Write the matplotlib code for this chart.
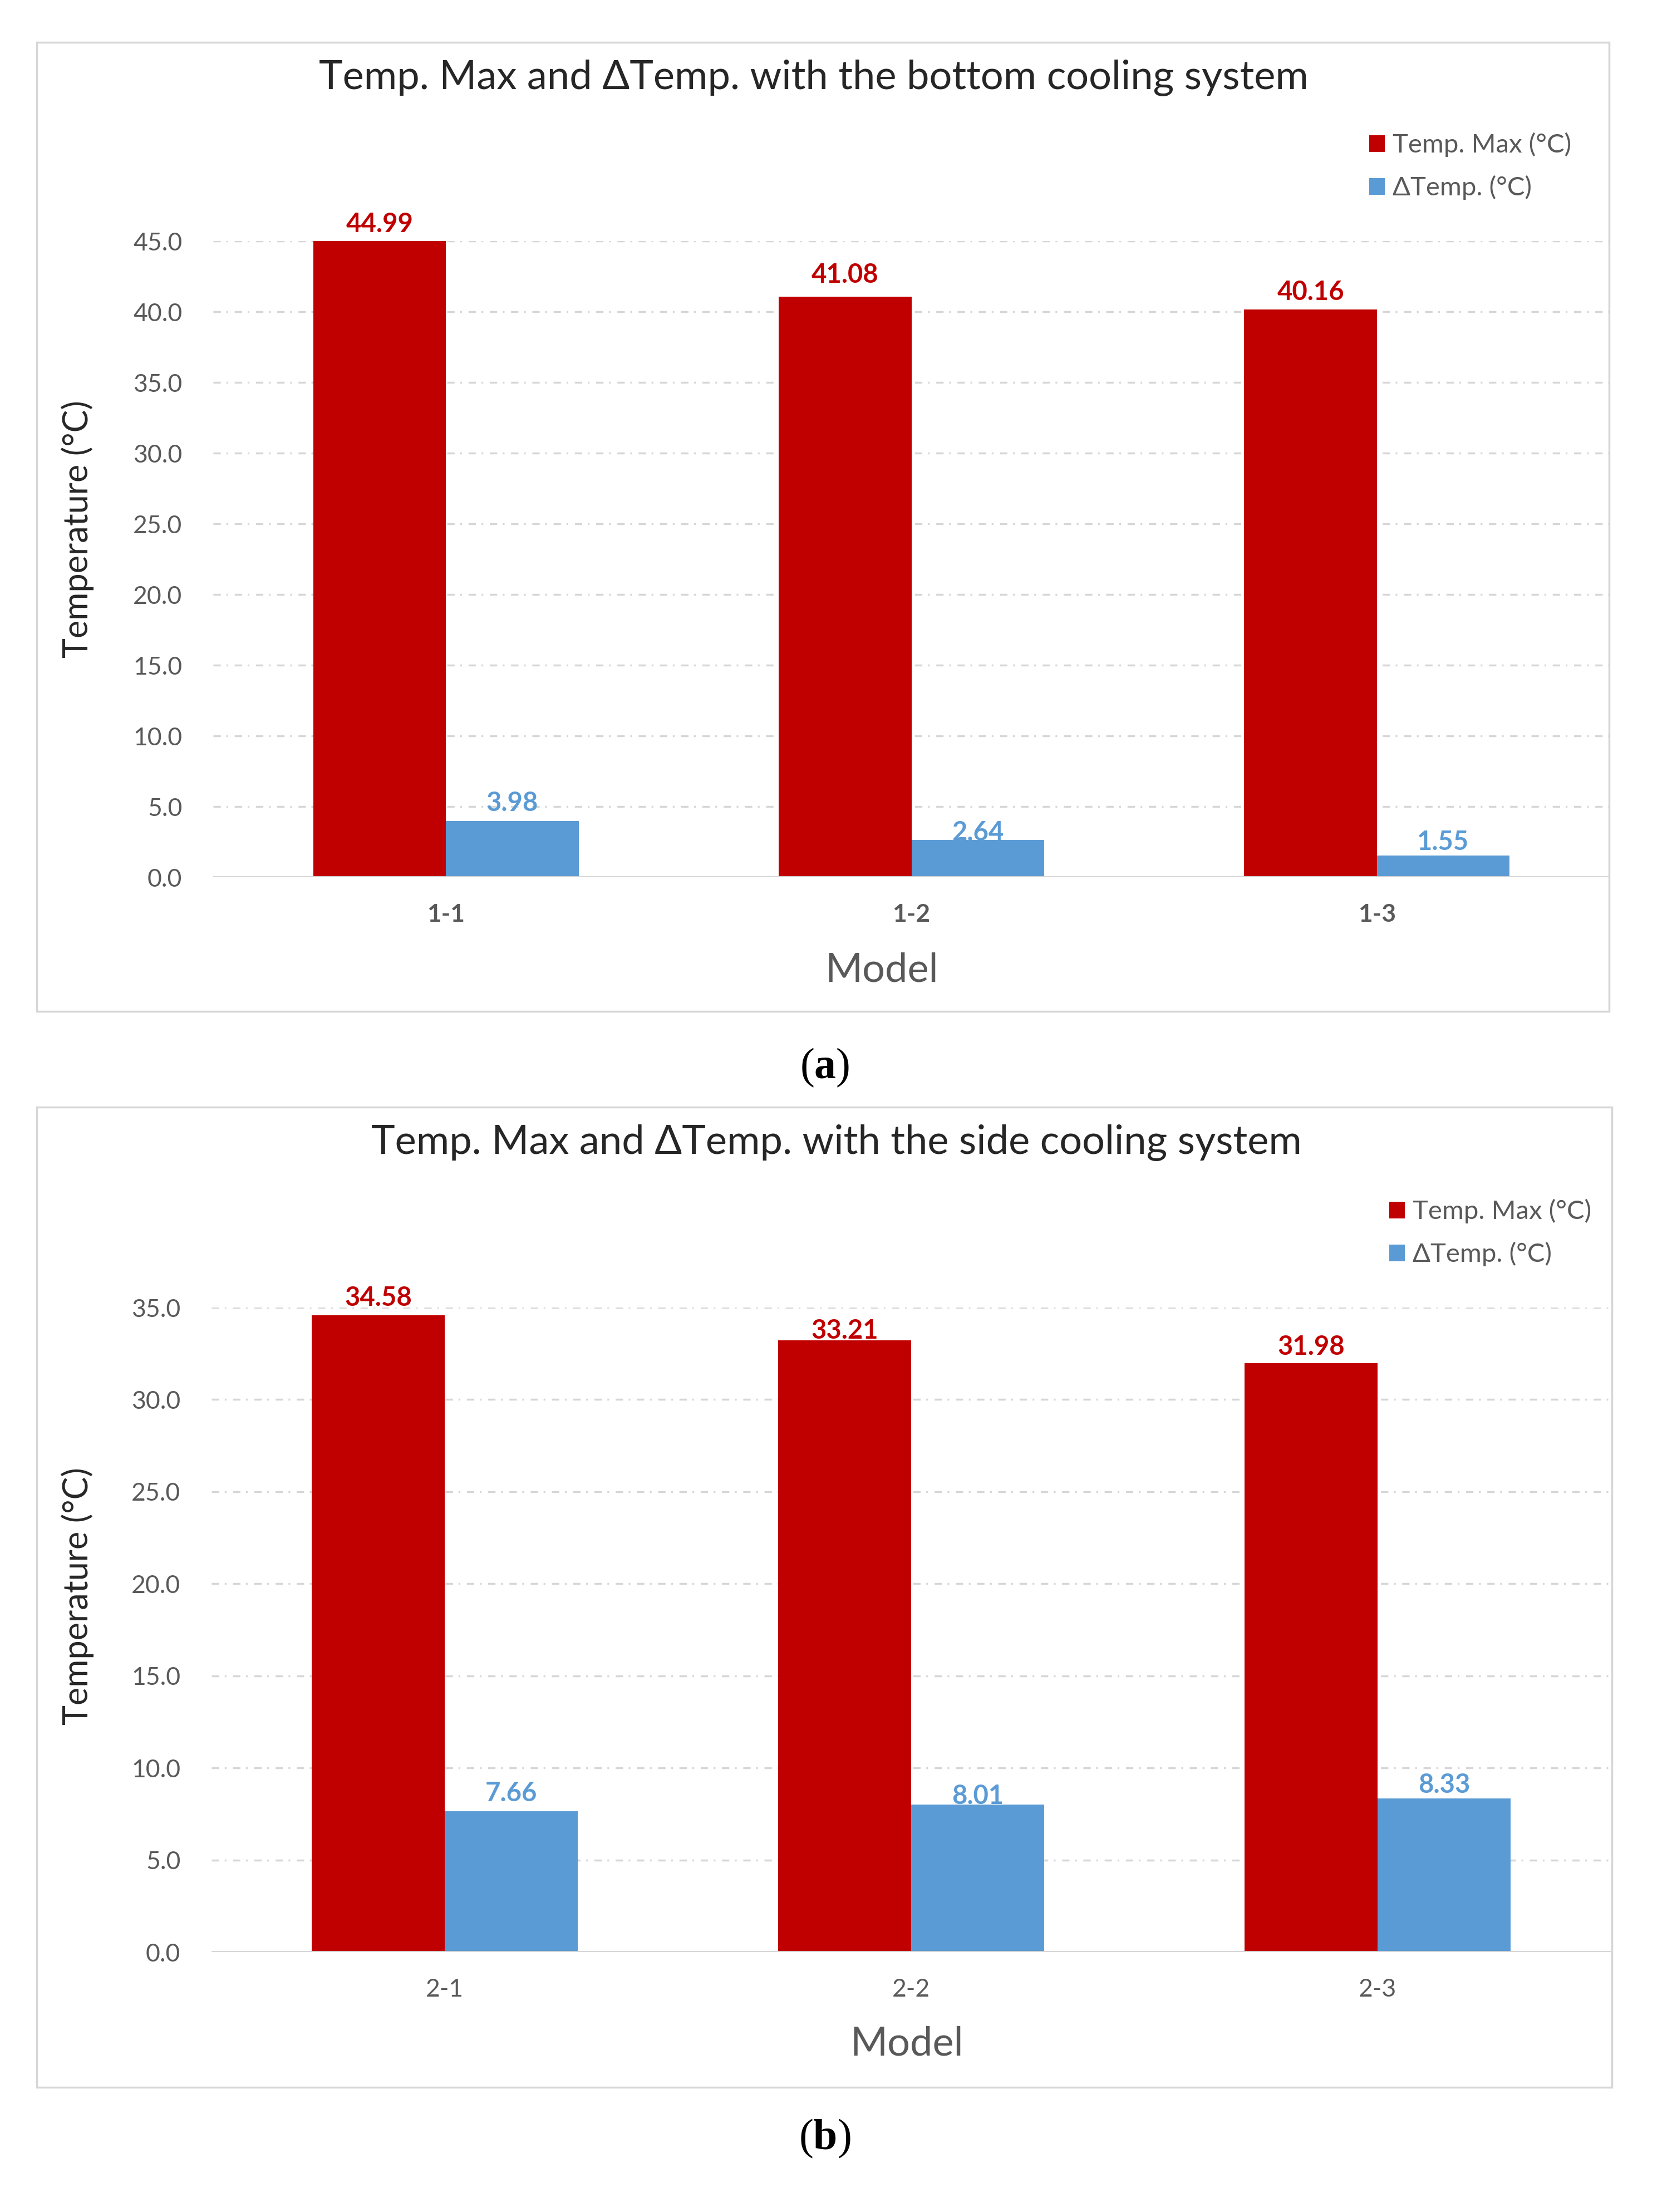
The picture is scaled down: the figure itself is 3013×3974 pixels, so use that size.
import matplotlib.pyplot as plt
import numpy as np
from matplotlib.patches import Rectangle

# data
models_a = ['1-1', '1-2', '1-3']
temp_max_a = [44.99, 41.08, 40.16]
delta_temp_a = [3.98, 2.64, 1.55]

models_b = ['2-1', '2-2', '2-3']
temp_max_b = [34.58, 33.21, 31.98]
delta_temp_b = [7.66, 8.01, 8.33]

RED = '#C00000'
BLUE = '#5B9BD5'
GRID = '#D6D6D6'
GREY = '#595959'
DARK = '#262626'

plt.rcParams['font.family'] = ['Lato', 'DejaVu Sans']
plt.rcParams['mathtext.fontset'] = 'custom'
plt.rcParams['mathtext.rm'] = 'Liberation Serif'
plt.rcParams['mathtext.bf'] = 'Liberation Serif:bold'

W, H = 3013, 3974
fig = plt.figure(figsize=(W / 100, H / 100), dpi=100)


def fx(px):
    return px / W


def fy(py):
    return 1 - py / H


def panel(box, axbox, models, tmax, dtemp, ymax, title, title_xy, ylabel_xy,
          model_xy, legend_xy, tick_bold, red_dy, blue_dy):
    # outer frame of the excel chart
    x0, y0, x1, y1 = box
    fig.add_artist(Rectangle((fx(x0), fy(y1)), fx(x1 - x0), (y1 - y0) / H,
                             transform=fig.transFigure, fill=False,
                             edgecolor=GRID, lw=2.5))
    l, t, r, b = axbox
    ax = fig.add_axes([fx(l), fy(b), fx(r - l), (b - t) / H])
    x = np.arange(len(models))
    w = 0.285
    b1 = ax.bar(x - w / 2, tmax, w, color=RED, zorder=3, label='Temp. Max (°C)')
    b2 = ax.bar(x + w / 2, dtemp, w, color=BLUE, zorder=3, label='ΔTemp. (°C)')
    for i in range(len(models)):
        ax.annotate(f'{tmax[i]:.2f}', (x[i] - w / 2, tmax[i]), xytext=(0, red_dy[i]),
                    textcoords='offset points', ha='center', va='baseline',
                    fontsize=34, fontweight='bold', color=RED, zorder=2)
        ax.annotate(f'{dtemp[i]:.2f}', (x[i] + w / 2, dtemp[i]), xytext=(0, blue_dy[i]),
                    textcoords='offset points', ha='center', va='baseline',
                    fontsize=34, fontweight='bold', color=BLUE, zorder=2)
    ax.set_xlim(-0.5, len(models) - 0.5)
    ax.set_ylim(0, ymax)
    ax.set_yticks(np.arange(0, ymax + 1, 5))
    ax.set_yticklabels([f'{v:.1f}' for v in np.arange(0, ymax + 1, 5)])
    ax.set_xticks(x)
    ax.set_xticklabels(models, fontweight='bold' if tick_bold else 'normal')
    ax.tick_params(length=0, labelsize=32, colors=GREY)
    ax.tick_params(axis='y', pad=40)
    ax.tick_params(axis='x', pad=34)
    for s in ax.spines.values():
        s.set_visible(False)
    ax.grid(axis='y', color=GRID, lw=2.5, linestyle=(0, (3.8, 2.9, 0.9, 3.4)), zorder=0)
    ax.axhline(0, color=GRID, lw=3.5, zorder=4)
    ax.set_axisbelow(True)

    fig.text(fx(title_xy[0]), fy(title_xy[1]), title, ha='center', va='center',
             fontsize=52, color=DARK)
    fig.text(fx(ylabel_xy[0]), fy(ylabel_xy[1]), 'Temperature (°C)', ha='center',
             va='center', rotation=90, fontsize=44, color=DARK)
    fig.text(fx(model_xy[0]), fy(model_xy[1]), 'Model', ha='center', va='center',
             fontsize=52, color=GREY)
    ax.legend(handles=[b1, b2], loc='upper left', bbox_to_anchor=(fx(legend_xy[0]), fy(legend_xy[1])),
              bbox_transform=fig.transFigure, frameon=False, fontsize=34,
              labelcolor=GREY, handlelength=0.6, handleheight=0.6,
              handletextpad=0.3, labelspacing=0.7, borderpad=0, borderaxespad=0)
    return ax


panel(box=(66, 76, 2891, 1817), axbox=(383, 433, 2892, 1576),
      models=models_a, tmax=temp_max_a, dtemp=delta_temp_a, ymax=45,
      title='Temp. Max and ΔTemp. with the bottom cooling system',
      title_xy=(1462, 140), ylabel_xy=(139, 951), model_xy=(1584, 1743),
      legend_xy=(2460, 238), tick_bold=True,
      red_dy=[12, 18, 12.5], blue_dy=[13, -1, 7])

panel(box=(66, 1989, 2896, 3750), axbox=(380, 2349, 2894, 3507),
      models=models_b, tmax=temp_max_b, dtemp=delta_temp_b, ymax=35,
      title='Temp. Max and ΔTemp. with the side cooling system',
      title_xy=(1503, 2053), ylabel_xy=(139, 2868), model_xy=(1629, 3672),
      legend_xy=(2496, 2154), tick_bold=False,
      red_dy=[12.5, 2, 11], blue_dy=[12.5, 0.5, 7.5])

fig.text(fx(1482), fy(1918), r'($\mathbf{a}$)', ha='center', va='center',
         fontsize=56, family='Liberation Serif', color='black')
fig.text(fx(1482), fy(3842), r'($\mathbf{b}$)', ha='center', va='center',
         fontsize=56, family='Liberation Serif', color='black')

fig.savefig('out.png', dpi=100, facecolor='white')
